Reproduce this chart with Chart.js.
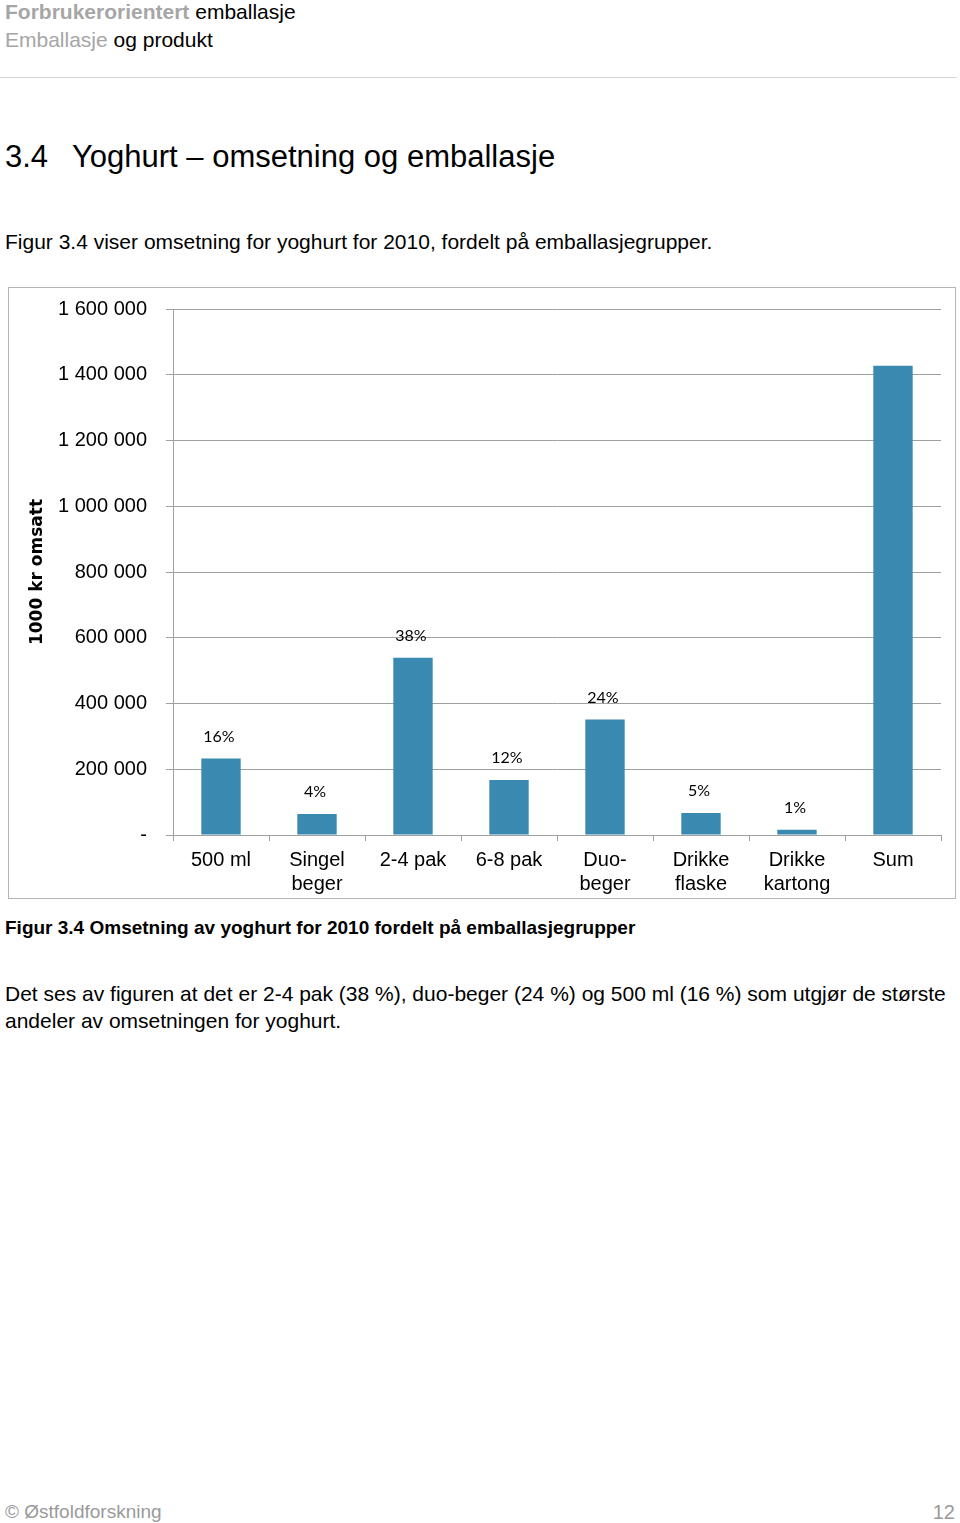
<!DOCTYPE html>
<html>
<head>
<meta charset="utf-8">
<script src="https://cdn.jsdelivr.net/npm/chart.js"></script>
<style>
  body { margin: 0; background: #fff; width: 960px; height: 1523px; position: relative; font-family: "Liberation Sans", Arial, sans-serif; color: #000; overflow: hidden; }
  .t { position: absolute; white-space: nowrap; }
  .grey { color: #a6a6a6; }
  #chartBox { position: absolute; left: 8px; top: 287px; width: 946px; height: 610px; border: 1px solid #b4b4b4; }
</style>
</head>
<body>
<div class="t" style="left:5px;top:0px;font-size:21px;line-height:23px;"><b class="grey">Forbrukerorientert</b> emballasje</div>
<div class="t" style="left:5px;top:28px;font-size:21px;line-height:23px;"><span class="grey">Emballasje</span> og produkt</div>
<div style="position:absolute;left:0;top:77px;width:957px;height:1px;background:#d4d4d4;"></div>

<div class="t" style="left:5px;top:139px;font-size:31px;line-height:36px;">3.4</div>
<div class="t" style="left:72px;top:139px;font-size:31px;line-height:36px;">Yoghurt – omsetning og emballasje</div>

<div class="t" style="left:5px;top:230px;font-size:21px;line-height:24px;">Figur 3.4 viser omsetning for yoghurt for 2010, fordelt på emballasjegrupper.</div>

<div id="chartBox"><canvas id="yoghurtChart"></canvas></div>

<div class="t" style="left:5px;top:917px;font-size:19px;line-height:22px;font-weight:bold;">Figur 3.4 Omsetning av yoghurt for 2010 fordelt på emballasjegrupper</div>

<div class="t" style="left:5px;top:980px;font-size:21px;line-height:27px;">Det ses av figuren at det er 2-4 pak (38 %), duo-beger (24 %) og 500 ml (16 %) som utgjør de største<br>andeler av omsetningen for yoghurt.</div>

<div class="t" style="left:5px;top:1500px;font-size:19px;line-height:24px;color:#9a9a9a;">© Østfoldforskning</div>
<div class="t" style="right:5px;top:1500px;font-size:20px;line-height:24px;color:#9a9a9a;">12</div>

<script>
// chart data (1000 kr)
const categories = [['500 ml'], ['Singel', 'beger'], ['2-4 pak'], ['6-8 pak'], ['Duo-', 'beger'], ['Drikke', 'flaske'], ['Drikke', 'kartong'], ['Sum']];
const turnover = [233000, 64000, 539000, 167000, 351000, 67000, 16000, 1427000];
const shareLabels = ['16%', '4%', '38%', '12%', '24%', '5%', '1%', ''];
const yTicks = [0, 200000, 400000, 600000, 800000, 1000000, 1200000, 1400000, 1600000];

var gridColor = '#a0a0a0';

var shareLabelPlugin = {
        id: 'shareLabels',
        afterDatasetsDraw: function(chart) {
                var ctx = chart.ctx;
                var meta = chart.getDatasetMeta(0);
                ctx.save();
                ctx.font = '16px Lato, "Open Sans", sans-serif';
                ctx.fillStyle = '#000';
                ctx.textAlign = 'center';
                ctx.textBaseline = 'middle';
                meta.data.forEach(function(bar, i) {
                        if (shareLabels[i]) {
                                ctx.fillText(shareLabels[i], bar.x - 2, bar.y - 22);
                        }
                });
                ctx.restore();
        }
};

var ctx = document.getElementById('yoghurtChart').getContext('2d');

var chart = new Chart(ctx, {
        type: 'bar',
        data: {
                labels: categories,
                datasets: [{
                        label: '1000 kr omsatt',
                        data: turnover,
                        backgroundColor: '#3a89b0',
                        categoryPercentage: 1,
                        barPercentage: 0.41
                }]
        },
        options: {
                responsive: true,
                maintainAspectRatio: false,
                animation: false,
                layout: {
                        padding: { top: 21, right: 14, left: 0, bottom: 0 }
                },
                plugins: {
                        legend: { display: false },
                        tooltip: { enabled: false }
                },
                scales: {
                        x: {
                                afterFit: function(scale) { scale.height = 63; },
                                grid: {
                                        drawOnChartArea: false,
                                        drawTicks: true,
                                        tickLength: 6,
                                        color: gridColor
                                },
                                border: { display: true, color: gridColor },
                                ticks: {
                                        color: '#000',
                                        padding: 7,
                                        maxRotation: 0,
                                        autoSkip: false,
                                        font: { family: '"Liberation Sans", Arial, sans-serif', size: 20, lineHeight: 1.2 }
                                }
                        },
                        y: {
                                min: 0,
                                max: 1600000,
                                afterFit: function(scale) {
                                        // fixed width, and no extra room above/below for tick labels
                                        scale.width = 164;
                                        scale.paddingTop = 0;
                                        scale.paddingBottom = 0;
                                },
                                afterBuildTicks: function(scale) {
                                        scale.ticks = yTicks.map(function(v) { return { value: v }; });
                                },
                                grid: {
                                        color: gridColor,
                                        tickLength: 7
                                },
                                border: { display: true, color: gridColor },
                                title: {
                                        display: true,
                                        text: '1000 kr omsatt',
                                        color: '#000',
                                        padding: { top: 18, bottom: 0 },
                                        font: { family: '"DejaVu Sans", sans-serif', size: 17, weight: 'bold' }
                                },
                                ticks: {
                                        color: '#000',
                                        padding: 19,
                                        font: { family: '"Liberation Sans", Arial, sans-serif', size: 20 },
                                        callback: function(value) {
                                                if (value === 0) return '-';
                                                return String(value).replace(/\B(?=(\d{3})+(?!\d))/g, ' ');
                                        }
                                }
                        }
                }
        },
        plugins: [shareLabelPlugin]
});
</script>
</body>
</html>
